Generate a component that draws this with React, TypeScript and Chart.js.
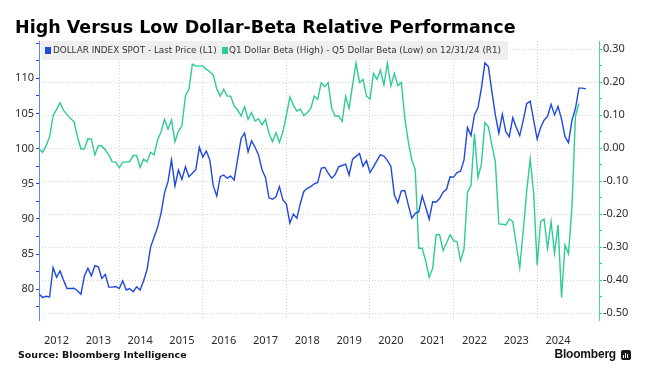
import React, { useEffect, useRef } from "react";
import { Chart, registerables } from "chart.js";

Chart.register(...registerables);

// Month-end observations, starting January 2012
const START_YEAR = 2012;

// DOLLAR INDEX SPOT - Last Price (left axis)
const dollarIndex = [
  79.3, 78.85, 79.0, 78.9, 83.1, 81.7, 82.6, 81.3, 80.1, 80.1, 80.15, 79.8,
  79.3, 81.9, 83.0, 81.9, 83.35, 83.2, 81.55, 82.1, 80.3, 80.3, 80.4, 80.1,
  81.2, 79.9, 80.1, 79.65, 80.35, 79.9, 81.2, 82.8, 86.0, 87.4, 88.8, 90.8,
  93.7, 95.3, 98.4, 94.7, 96.95, 95.6, 97.4, 96.0, 96.5, 97.05, 100.2, 98.8,
  99.65, 98.4, 94.7, 93.25, 96.0, 96.25, 95.8, 96.1, 95.55, 98.5, 101.45, 102.2,
  99.55, 101.1, 100.2, 99.1, 97.0, 95.9, 93.0, 92.8, 93.15, 94.6, 92.7, 92.1,
  89.4, 90.7, 90.1, 92.2, 93.9, 94.35, 94.6, 95.0, 95.2, 97.2, 97.35, 96.5,
  95.8, 96.3, 97.4, 97.6, 97.8, 96.25, 98.5, 98.9, 99.3, 97.5, 98.3, 96.6,
  97.4, 98.3, 99.1, 98.95, 98.3, 97.5, 93.4, 92.3, 94.0, 94.05, 92.0, 90.1,
  90.8, 91.0, 93.25, 91.65, 89.95, 92.45, 92.4, 92.9, 93.8, 94.25, 96.0, 95.95,
  96.6, 96.8, 98.4, 103.0, 101.85, 104.8, 105.8, 108.6, 112.2, 111.65, 108.1, 104.8,
  102.2, 104.9, 102.4, 101.7, 104.4, 103.0, 101.85, 104.0, 106.4, 106.75, 104.05, 101.35,
  103.0, 104.05, 104.6, 106.3, 104.8, 106.0, 104.2, 101.7, 100.85, 104.05, 105.7, 108.6,
  108.6, 108.5,
];

// Q1 Dollar Beta (High) - Q5 Dollar Beta (Low) (right axis)
const betaSpread = [
  -0.002, -0.012, 0.008, 0.035, 0.098, 0.118, 0.138, 0.115, 0.102, 0.09, 0.081, 0.035,
  -0.002, -0.002, 0.029, 0.028, -0.02, 0.008, 0.007, -0.005, -0.02, -0.041, -0.042, -0.059,
  -0.042, -0.042, -0.04, -0.022, -0.022, -0.058, -0.033, -0.041, -0.012, -0.02, 0.025, 0.05,
  0.088, 0.058, 0.086, 0.02, 0.052, 0.068, 0.158, 0.179, 0.255, 0.249, 0.249, 0.249,
  0.24, 0.232, 0.222, 0.18, 0.158, 0.179, 0.158, 0.158, 0.128, 0.116, 0.098, 0.126,
  0.088, 0.108, 0.083, 0.089, 0.071, 0.088, 0.045, 0.02, 0.047, 0.018, 0.05, 0.1,
  0.156, 0.131, 0.113, 0.119, 0.099, 0.108, 0.121, 0.158, 0.148, 0.199, 0.187, 0.199,
  0.121, 0.098, 0.098, 0.081, 0.158, 0.121, 0.192, 0.258, 0.199, 0.209, 0.158, 0.149,
  0.227, 0.209, 0.237, 0.192, 0.258, 0.189, 0.227, 0.19, 0.199, 0.091, 0.02, -0.035,
  -0.065, -0.303, -0.303, -0.341, -0.391, -0.364, -0.261, -0.262, -0.31, -0.286, -0.262, -0.28,
  -0.283, -0.341, -0.305, -0.133, -0.113, 0.045, -0.088, -0.048, 0.078, 0.065, 0.01, -0.041,
  -0.229, -0.23, -0.232, -0.214, -0.222, -0.29, -0.362, -0.25, -0.13, -0.032, -0.136, -0.354,
  -0.222, -0.214, -0.303, -0.222, -0.318, -0.232, -0.452, -0.293, -0.32, -0.177, 0.098, 0.136,
];

const yearLabels = [2012, 2013, 2014, 2015, 2016, 2017, 2018, 2019, 2020, 2021, 2022, 2023, 2024];
const leftTickLabels = [80, 85, 90, 95, 100, 105, 110];
const leftMinorTicks = [77.5, 82.5, 87.5, 92.5, 97.5, 102.5, 107.5, 112.5, 115];
const rightTickLabels = [-0.5, -0.4, -0.3, -0.2, -0.1, 0, 0.1, 0.2, 0.3];
const rightMinorTicks = [-0.45, -0.35, -0.25, -0.15, -0.05, 0.05, 0.15, 0.25];

const TITLE = "High Versus Low Dollar-Beta Relative Performance";
const SERIES1 = "DOLLAR INDEX SPOT - Last Price (L1)";
const SERIES2 = "Q1 Dollar Beta (High) - Q5 Dollar Beta (Low) on 12/31/24 (R1)";
const SOURCE = "Source: Bloomberg Intelligence";

const BLUE = "#1f48df";
const BLUE_AXIS = "#5f86ea";
const GREEN = "#2ecb98";
const GREEN_AXIS = "#45d6a6";
const GRID = "#d2d2d2";
const TEXT = "#2b2b2b";

const X_MIN = 2012.08;
const X_MAX = 2025.48;

const monthEnd = (i: number) => START_YEAR + (i + 1) / 12;

export default function App() {
  const canvasRef = useRef<HTMLCanvasElement | null>(null);

  useEffect(() => {
    if (!canvasRef.current) return;
    const xTicks: number[] = [];
    for (const y of [...yearLabels, 2025]) {
      if (y >= X_MIN && y <= X_MAX) xTicks.push(y);
      if (y + 0.5 >= X_MIN && y + 0.5 <= X_MAX) xTicks.push(y + 0.5);
    }
    const leftTicks = [...leftTickLabels, ...leftMinorTicks].sort((a, b) => a - b);
    const rightTicks = [...rightTickLabels, ...rightMinorTicks].sort((a, b) => a - b);
    const isMajorRight = (v: number) => rightTickLabels.some((t) => Math.abs(t - v) < 1e-6);
    const font = { family: "'Noto Sans', 'DejaVu Sans', sans-serif", size: 11 };

    const chart = new Chart(canvasRef.current, {
      type: "line",
      data: {
        datasets: [
          {
            label: SERIES1,
            data: dollarIndex.map((v, i) => ({ x: monthEnd(i), y: v })),
            borderColor: BLUE,
            borderWidth: 1.4,
            pointRadius: 0,
            yAxisID: "y",
            tension: 0,
          },
          {
            label: SERIES2,
            data: betaSpread.map((v, i) => ({ x: monthEnd(i), y: v })),
            borderColor: GREEN,
            borderWidth: 1.4,
            pointRadius: 0,
            yAxisID: "y1",
            tension: 0,
          },
        ],
      },
      options: {
        responsive: false,
        animation: false,
        events: [],
        layout: { padding: { top: 41, bottom: 0, left: 0, right: 0 } },
        plugins: { legend: { display: false }, tooltip: { enabled: false } },
        scales: {
          x: {
            type: "linear",
            min: X_MIN,
            max: X_MAX,
            afterBuildTicks: (axis: any) => {
              axis.ticks = xTicks.map((v) => ({ value: v }));
            },
            afterFit: (axis: any) => {
              axis.height = 52;
            },
            ticks: {
              autoSkip: false,
              maxRotation: 0,
              padding: 14,
              color: TEXT,
              font,
              callback: (v: any) => {
                const n = Number(v);
                return Math.abs((n % 1) - 0.5) < 1e-6 ? String(Math.floor(n)) : "";
              },
            },
            grid: {
              drawTicks: false,
              lineWidth: 1,
              color: (ctx: any) => {
                const v = ctx.tick ? ctx.tick.value : NaN;
                return Math.abs(v - Math.round(v)) < 1e-6 && Math.round(v) % 2 === 0 ? GRID : "rgba(0,0,0,0)";
              },
            },
            border: { display: false, dash: [1, 2] },
          },
          y: {
            position: "left",
            min: 75.63,
            max: 115.3,
            afterBuildTicks: (axis: any) => {
              axis.ticks = leftTicks.map((v) => ({ value: v }));
            },
            afterFit: (axis: any) => {
              axis.width = 39;
            },
            ticks: {
              autoSkip: false,
              padding: 2,
              color: TEXT,
              font,
              callback: (v: any) => (leftTickLabels.includes(Number(v)) ? String(v) : ""),
            },
            grid: { drawOnChartArea: false, tickLength: 3, tickColor: BLUE, tickWidth: 1 },
            border: { color: BLUE_AXIS, width: 1 },
          },
          y1: {
            position: "right",
            min: -0.5203,
            max: 0.3252,
            afterBuildTicks: (axis: any) => {
              axis.ticks = rightTicks.map((v) => ({ value: v }));
            },
            afterFit: (axis: any) => {
              axis.width = 51;
            },
            ticks: {
              autoSkip: false,
              padding: 1,
              color: TEXT,
              font,
              callback: (v: any) => (isMajorRight(Number(v)) ? Number(v).toFixed(2) : ""),
            },
            grid: {
              drawOnChartArea: true,
              tickLength: 3,
              tickColor: GREEN,
              tickWidth: 1,
              tickBorderDash: [],
              lineWidth: 1,
              color: (ctx: any) => (ctx.tick && isMajorRight(ctx.tick.value) ? GRID : "rgba(0,0,0,0)"),
            },
            border: { color: GREEN_AXIS, width: 1, dash: [1, 2] },
          },
        },
      } as any,
    });
    return () => chart.destroy();
  }, []);

  const legendText: React.CSSProperties = {
    position: "absolute",
    top: 0,
    height: 19,
    lineHeight: "19px",
    fontFamily: "'DejaVu Sans', 'Noto Sans', sans-serif",
    fontSize: 8.8,
    color: "#333",
    whiteSpace: "nowrap",
  };
  const square = (left: number, color: string): React.CSSProperties => ({
    position: "absolute",
    left,
    top: 6,
    width: 6,
    height: 7,
    background: color,
  });

  return (
    <div style={{ position: "fixed", left: 0, top: 0, width: 650, height: 372, background: "#fff", overflow: "hidden" }}>
      <canvas ref={canvasRef} width={650} height={372} style={{ position: "absolute", left: 0, top: 0, display: "block" }} />
      <div
        style={{
          position: "absolute",
          left: 15,
          top: 16,
          fontFamily: "'DejaVu Sans', sans-serif",
          fontWeight: 700,
          fontSize: 17.5,
          lineHeight: "22px",
          color: "#000",
          whiteSpace: "nowrap",
        }}
      >
        {TITLE}
      </div>
      <div style={{ position: "absolute", left: 41, top: 41, width: 467, height: 19, background: "#efefef" }}>
        <div style={square(4, BLUE)} />
        <div style={{ ...legendText, left: 12 }}>{SERIES1}</div>
        <div style={square(181, GREEN)} />
        <div style={{ ...legendText, left: 188 }}>{SERIES2}</div>
      </div>
      <div
        style={{
          position: "absolute",
          left: 18,
          top: 349,
          fontFamily: "'DejaVu Sans', sans-serif",
          fontWeight: 700,
          fontSize: 9.5,
          lineHeight: "12px",
          color: "#111",
          whiteSpace: "pre",
        }}
      >
        {SOURCE}
      </div>
      <div
        style={{
          position: "absolute",
          right: 34,
          top: 347,
          fontFamily: "'Liberation Sans', Arial, sans-serif",
          fontWeight: 700,
          fontSize: 12,
          lineHeight: "15px",
          color: "#111",
          whiteSpace: "nowrap",
          letterSpacing: -0.2,
        }}
      >
        Bloomberg
      </div>
      <div
        style={{
          position: "absolute",
          left: 621,
          top: 350,
          width: 10,
          height: 10,
          borderRadius: 2,
          background: "#1a1a1a",
        }}
      >
        <div style={{ position: "absolute", left: 2, top: 5, width: 1, height: 3, background: "#fff" }} />
        <div style={{ position: "absolute", left: 4, top: 3, width: 1, height: 5, background: "#fff" }} />
        <div style={{ position: "absolute", left: 6, top: 4, width: 1, height: 4, background: "#fff" }} />
      </div>
    </div>
  );
}
